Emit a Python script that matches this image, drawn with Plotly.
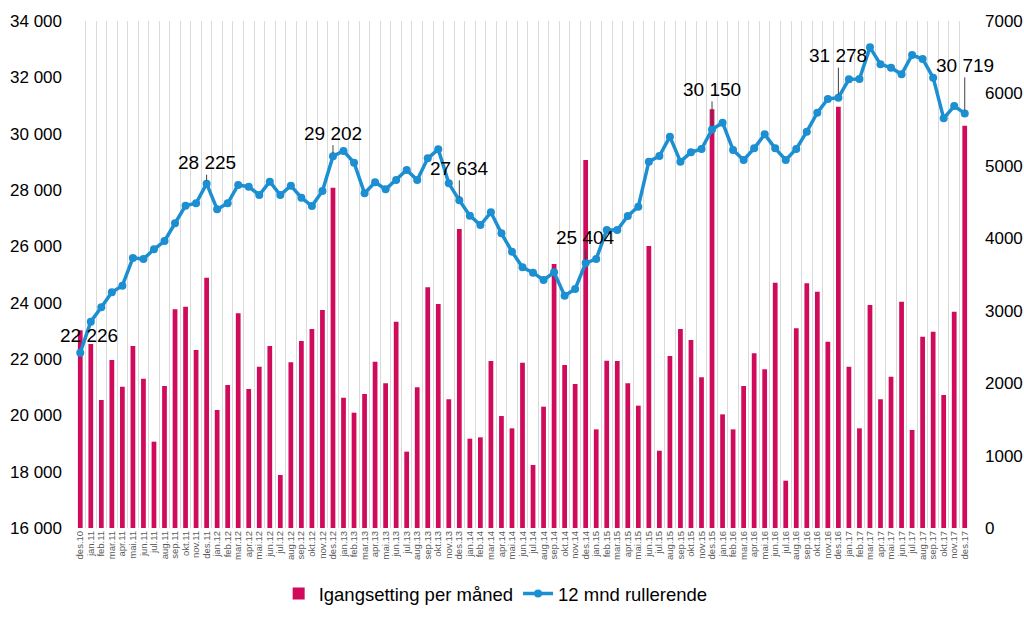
import plotly.graph_objects as go

months = ["des.10",
          "jan.11", "feb.11", "mar.11", "apr.11", "mai.11", "jun.11", "jul.11", "aug.11", "sep.11", "okt.11", "nov.11", "des.11",
          "jan.12", "feb.12", "mar.12", "apr.12", "mai.12", "jun.12", "jul.12", "aug.12", "sep.12", "okt.12", "nov.12", "des.12",
          "jan.13", "feb.13", "mar.13", "apr.13", "mai.13", "jun.13", "jul.13", "aug.13", "sep.13", "okt.13", "nov.13", "des.13",
          "jan.14", "feb.14", "mar.14", "apr.14", "mai.14", "jun.14", "jul.14", "aug.14", "sep.14", "okt.14", "nov.14", "des.14",
          "jan.15", "feb.15", "mar.15", "apr.15", "mai.15", "jun.15", "jul.15", "aug.15", "sep.15", "okt.15", "nov.15", "des.15",
          "jan.16", "feb.16", "mar.16", "apr.16", "mai.16", "jun.16", "jul.16", "aug.16", "sep.16", "okt.16", "nov.16", "des.16",
          "jan.17", "feb.17", "mar.17", "apr.17", "mai.17", "jun.17", "jul.17", "aug.17", "sep.17", "okt.17", "nov.17", "des.17"]

monthly = [2730,
           2540, 1767, 2319, 1951, 2513, 2062, 1192, 1960, 3019, 3056, 2457, 3456,
           1629, 1974, 2964, 1919, 2227, 2513, 732, 2287, 2582, 2747, 3010, 4699,
           1799, 1592, 1850, 2296, 1997, 2849, 1054, 1942, 3323, 3093, 1776, 4128,
           1233, 1252, 2306, 1546, 1376, 2283, 870, 1675, 3645, 2250, 1988, 5081,
           1362, 2310, 2306, 1997, 1689, 3893, 1067, 2375, 2747, 2596, 2080, 5781,
           1569, 1362, 1960, 2412, 2191, 3387, 653, 2757, 3378, 3263, 2572, 5817,
           2227, 1376, 3079, 1776, 2089, 3125, 1353, 2642, 2711, 1836, 2987, 5555]

rolling = [22226,
           23326, 23834, 24367, 24604, 25586, 25550, 25894, 26189, 26816, 27444, 27527, 28225,
           27314, 27527, 28178, 28118, 27823, 28296, 27823, 28154, 27728, 27432, 27964, 29202,
           29385, 28970, 27882, 28272, 28024, 28355, 28710, 28355, 29124, 29444, 28237, 27634,
           27089, 26757, 27207, 26461, 25810, 25254, 25065, 24805, 25077, 24249, 24485, 25404,
           25550, 26580, 26580, 27077, 27408, 29006, 29207, 29894, 29006, 29337, 29456, 30150,
           30390, 29420, 29065, 29479, 29976, 29479, 29065, 29456, 30071, 30746, 31231, 31278,
           31929, 31941, 33065, 32462, 32343, 32106, 32793, 32651, 31988, 30544, 30982, 30719]

label_months = ["des.10", "des.11", "des.12", "des.13", "des.14", "des.15", "des.16", "des.17"]
label_texts = ["22 226", "28 225", "29 202", "27 634", "25 404", "30 150", "31 278", "30 719"]
label_offsets = [None, -21, -23, -32, -26, -40, -42, -48]

bar_color = "#D00B5B"
line_color = "#1B8FD1"
font_family = "Liberation Sans, Arial, sans-serif"

fig = go.Figure()
fig.add_trace(go.Bar(
    x=months, y=monthly, name="Igangsetting per måned",
    marker=dict(color=bar_color, line=dict(width=0)),
    width=0.45, yaxis="y",
))
fig.add_trace(go.Scatter(
    x=months, y=rolling, name="12 mnd rullerende",
    mode="lines+markers",
    line=dict(color=line_color, width=3.5),
    marker=dict(color=line_color, size=8),
    yaxis="y2",
))

annotations = []
for m, t, off in zip(label_months, label_texts, label_offsets):
    val = rolling[months.index(m)]
    if off is None:
        annotations.append(dict(x=m, y=val, xref="x", yref="y2", text=t,
                                showarrow=False, xshift=9, yshift=17,
                                font=dict(size=19, color="#000000", family=font_family)))
    else:
        annotations.append(dict(x=m, y=val, xref="x", yref="y2", text=t,
                                showarrow=True, arrowhead=0, arrowwidth=1,
                                arrowcolor="#404040", ax=0, ay=off, standoff=3,
                                font=dict(size=19, color="#000000", family=font_family)))

fig.update_layout(
    width=1024, height=619,
    margin=dict(l=75, r=54, t=21, b=91, autoexpand=False),
    paper_bgcolor="white", plot_bgcolor="white",
    font=dict(family=font_family, color="#000000"),
    showlegend=True,
    legend=dict(orientation="h", x=0.47, xanchor="center", y=-0.13, yanchor="middle",
                font=dict(size=18.5), traceorder="normal", itemwidth=30),
    xaxis=dict(type="category", tickson="boundaries", showgrid=True,
               range=[-0.5, len(months) - 0.5], autorange=False,
               gridcolor="#D9D9D9", gridwidth=1, tickangle=-90,
               tickmode="array", tickvals=months, ticktext=months,
               tickfont=dict(size=9.5, color="#595959"), ticks="", showline=False,
               zeroline=False, automargin=False),
    yaxis=dict(side="right", range=[0, 7000], dtick=1000, showgrid=False,
               zeroline=False, tickformat="d", tickfont=dict(size=17),
               ticklabelstandoff=14, automargin=False),
    yaxis2=dict(side="left", overlaying="y", range=[16000, 34000], dtick=2000,
                showgrid=False, zeroline=False, tickformat=",d",
                tickfont=dict(size=17), ticklabelstandoff=12, automargin=False),
    separators=", ",
    annotations=annotations,
)

fig.write_html("out.html", config={"displayModeBar": False},
               post_script="document.body.style.margin='0px';")
